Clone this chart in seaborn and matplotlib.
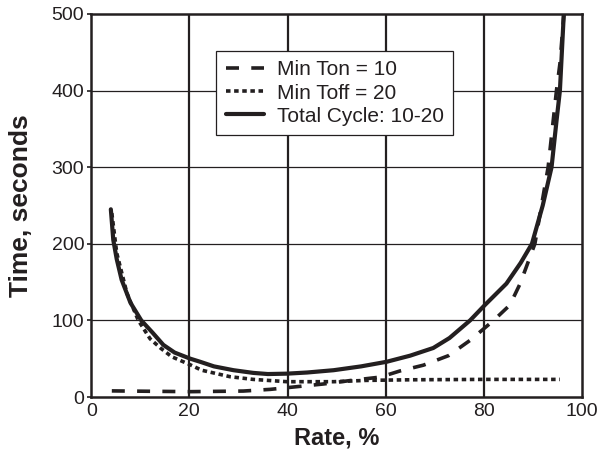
import numpy as np
import pandas as pd
import matplotlib
matplotlib.use("Agg")
import matplotlib.pyplot as plt
import seaborn as sns

# values
ton_rate = [4.2, 12, 20.2, 31, 36.5, 41.9, 47.3, 53.4, 58.9, 62.9, 67.7, 72.8,
            77.2, 82, 85.3, 87.4, 90.4, 93.1, 94.8, 95.5, 96.3]
ton_time = [8, 7.5, 7, 7.8, 10, 13.5, 17, 22, 26, 34, 41.6, 54,
            74, 100, 120, 148, 200, 300, 400, 435, 499]

toff_rate = [4.2, 5.2, 7.3, 9.6, 12, 14.1, 16.4, 20.2, 22.5, 28.3, 33, 39.9,
             49.4, 56, 65, 80, 95.5]
toff_time = [240, 188, 135, 100, 76, 64, 52.6, 42, 35, 26.5, 23, 20,
             20, 21.7, 22.5, 23, 23]

total_rate = [4.0, 4.5, 5.2, 6.2, 8, 10.2, 12.5, 14.7, 17, 20.2, 22.2, 25, 29,
              33, 36, 39.9, 44, 49.4, 55, 60.2, 65, 69.7, 73, 77.2, 80.2,
              84.6, 87.5, 89.8, 92, 93.8, 94.8, 95.5, 96.3]
total_time = [245, 205, 180, 153, 123, 100, 84, 68, 58, 50, 46, 40, 35,
              31.5, 30, 30.5, 32, 35, 40, 46, 54, 64, 77, 100, 120,
              148, 175, 200, 250, 300, 360, 400, 501]

x_ticks = [0, 20, 40, 60, 80, 100]
y_ticks = [0, 100, 200, 300, 400, 500]

ink = "#231f20"

sns.set_style("white")
plt.rcParams['font.family'] = ['Liberation Sans', 'DejaVu Sans']

fig = plt.figure(figsize=(6, 4.63), dpi=100)
ax = fig.add_axes([0.152, 0.1425, 0.818, 0.8275])

sns.lineplot(x=ton_rate, y=ton_time, ax=ax, color=ink, lw=2.6,
             label="Min Ton = 10")
ax.lines[-1].set_dashes((3.6, 3.4))
sns.lineplot(x=toff_rate, y=toff_time, ax=ax, color=ink, lw=2.6,
             label="Min Toff = 20")
ax.lines[-1].set_dashes((1.25, 1.0))
sns.lineplot(x=total_rate, y=total_time, ax=ax, color=ink, lw=3.0,
             label="Total Cycle: 10-20")

ax.set_xlim(0, 100)
ax.set_ylim(0, 500)
ax.set_xticks(x_ticks)
ax.set_yticks(y_ticks)
ax.tick_params(axis="x", labelsize=14, colors=ink, length=0, pad=4)
ax.tick_params(axis="y", labelsize=14, colors=ink, left=True, length=3,
               width=1.2, pad=2)

for v in x_ticks[1:-1]:
    ax.axvline(v, color=ink, lw=1.6, zorder=0)
for v in y_ticks[1:-1]:
    ax.axhline(v, color=ink, lw=0.9, zorder=0)

for s in ax.spines.values():
    s.set_color(ink)
    s.set_linewidth(1.8)

ax.set_xlabel("Rate, %", fontsize=17, fontweight="bold", labelpad=5, color=ink)
ax.set_ylabel("Time, seconds", fontsize=19, fontweight="bold", labelpad=13,
              color=ink)

leg = ax.legend(loc="upper left", bbox_to_anchor=(0.2546, 0.903), fontsize=15,
                frameon=True, fancybox=False, edgecolor=ink,
                framealpha=1, handlelength=1.85, borderpad=0.45,
                labelspacing=0.2, handletextpad=0.6, borderaxespad=0)
leg.get_frame().set_linewidth(0.9)
for t in leg.get_texts():
    t.set_color(ink)

fig.savefig("out.png", dpi=100)
